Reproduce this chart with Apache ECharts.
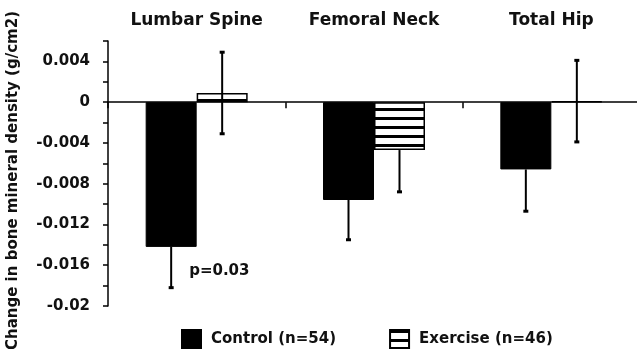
<!DOCTYPE html>
<html><head><meta charset="utf-8">
<script src="https://cdn.jsdelivr.net/npm/echarts@6/dist/echarts.min.js"></script>
<style>html,body{margin:0;padding:0;background:#fff}#c{width:637px;height:349px}</style>
</head><body><div id="c"></div>
<script>
const categories = ['Lumbar Spine', 'Femoral Neck', 'Total Hip'];
const controlMean = [-0.0142, -0.0096, -0.0066];
const controlErr = [0.0040, 0.0039, 0.0041];
const exerciseMean = [0.0009, -0.0047, 0.0001];
const exerciseErr = [0.0040, 0.0041, 0.0040];
const seriesNames = ['Control (n=54)', 'Exercise (n=46)'];
const yAxisName = 'Change in bone mineral density (g/cm2)';
const pNote = { text: 'p=0.03', category: 0, value: -0.01657 };

const FONT = 'DejaVu Sans';
const TXT = '#111';
const BAR_W = 51;

// stripe pattern
const pc = document.createElement('canvas');
pc.width = 4; pc.height = 9;
const g = pc.getContext('2d');
g.fillStyle = '#fff'; g.fillRect(0, 0, 4, 9);
g.fillStyle = '#000'; g.fillRect(0, 0, 4, 3);
const stripe = { image: pc, repeat: 'repeat' };

function errRenderer(sign) {
  return function (params, api) {
    const i = api.value(0), v = api.value(1), e = api.value(2);
    const hi = v >= 0 ? v + e : v;
    const lo = v - e;
    const pHi = api.coord([i, hi]);
    const pLo = api.coord([i, lo]);
    const x = pHi[0] + sign * BAR_W / 2;
    const st = { stroke: '#000', lineWidth: 2 };
    const children = [
      { type: 'line', shape: { x1: x, y1: pHi[1], x2: x, y2: pLo[1] }, style: st },
      { type: 'line', shape: { x1: x - 2.5, y1: pLo[1], x2: x + 2.5, y2: pLo[1] }, style: { stroke: '#000', lineWidth: 3 } }
    ];
    if (v >= 0) children.push({ type: 'line', shape: { x1: x - 2.5, y1: pHi[1], x2: x + 2.5, y2: pHi[1] }, style: { stroke: '#000', lineWidth: 3 } });
    return { type: 'group', children };
  };
}

const chart = echarts.init(document.getElementById('c'), null, { renderer: 'canvas' });
chart.setOption({
  animation: false,
  backgroundColor: '#fff',
  grid: { left: 108, top: 41, width: 532, height: 265, outerBoundsMode: 'none' },
  legend: {
    data: [
      { name: seriesNames[0], icon: 'rect' },
      { name: seriesNames[1], icon: 'rect' }
    ],
    left: 176, top: 324, itemWidth: 19, itemHeight: 18, itemGap: 53,
    textStyle: { fontFamily: FONT, fontWeight: 'bold', fontSize: 15, color: TXT, padding: [0, 0, 0, 5] }
  },
  xAxis: [
    {
      type: 'category', data: categories,
      axisLine: { onZero: true, lineStyle: { color: '#000', width: 1.5 } },
      axisTick: { show: true, length: 6, lineStyle: { color: '#000', width: 1.5 } },
      axisLabel: { show: false }, splitLine: { show: false }
    },
    {
      type: 'category', data: categories, position: 'top',
      axisLine: { show: false, onZero: false }, axisTick: { show: false },
      axisLabel: { margin: 12, fontFamily: FONT, fontWeight: 'bold', fontSize: 17, color: TXT },
      splitLine: { show: false }
    }
  ],
  yAxis: {
    type: 'value', min: -0.02, max: 0.006, interval: 0.002,
    name: yAxisName, nameLocation: 'middle', nameGap: 87,
    nameTextStyle: { fontFamily: FONT, fontWeight: 'bold', fontSize: 15, color: TXT, padding: [0, 14, 0, 0] },
    axisLine: { show: true, lineStyle: { color: '#000', width: 1.5 } },
    axisTick: { show: true, length: 5, lineStyle: { color: '#000', width: 1.5 } },
    axisLabel: {
      margin: 18, fontFamily: FONT, fontWeight: 'bold', fontSize: 15, color: TXT,
      formatter: function (v) {
        const k = Math.round(v / 0.002);
        return k % 2 === 0 ? String(+v.toFixed(3)) : '';
      }
    },
    splitLine: { show: false }
  },
  series: [
    {
      name: seriesNames[0], type: 'bar', data: controlMean, barWidth: BAR_W, barGap: '0%',
      itemStyle: { color: '#000', borderColor: '#000', borderWidth: 1 },
      z: 2,
      markPoint: {
        symbolSize: 0,
        data: [{ coord: [pNote.category, pNote.value], value: pNote.text }],
        label: { show: true, position: 'right', distance: 0, offset: [18, 0], formatter: pNote.text,
          fontFamily: FONT, fontWeight: 'bold', fontSize: 15, color: TXT }
      }
    },
    {
      name: seriesNames[1], type: 'bar', data: exerciseMean, barWidth: BAR_W, barGap: '0%',
      itemStyle: { color: stripe, borderColor: '#000', borderWidth: 1.5 },
      z: 2
    },
    {
      type: 'custom', name: 'errC', renderItem: errRenderer(-1), z: 5,
      data: controlMean.map((v, i) => [i, v, controlErr[i]]), encode: { x: 0, y: 1 }
    },
    {
      type: 'custom', name: 'errE', renderItem: errRenderer(1), z: 5,
      data: exerciseMean.map((v, i) => [i, v, exerciseErr[i]]), encode: { x: 0, y: 1 }
    }
  ]
});
</script></body></html>
